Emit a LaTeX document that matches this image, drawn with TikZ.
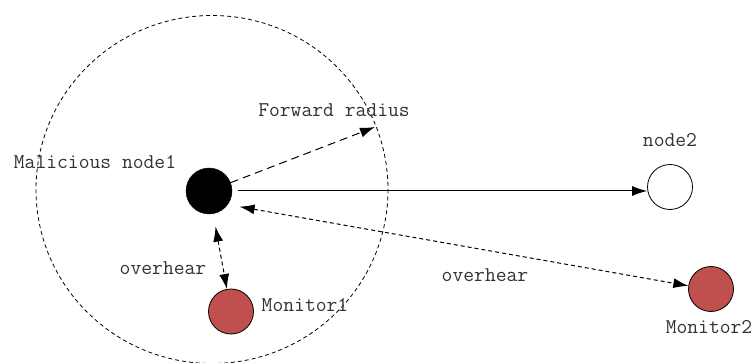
\documentclass[tikz,border=0pt]{standalone}
\usepackage{tikz}
\usetikzlibrary{arrows.meta}
\usepackage{xcolor}

\definecolor{monred}{RGB}{192,80,77}

\tikzset{
  lbl/.style={font=\fontsize{21}{25}\selectfont\ttfamily, text=black!80},
  malnode/.style={circle, fill=black, draw=black, minimum size=46pt, inner sep=0pt},
  plainnode/.style={circle, fill=white, draw=black, line width=0.8pt, minimum size=45pt, inner sep=0pt},
  monnode/.style={circle, fill=monred, draw=black, line width=0.8pt, minimum size=45pt, inner sep=0pt},
  fwdline/.style={line width=1pt, dash pattern=on 8pt off 5pt},
  ovhline/.style={line width=1pt, dash pattern=on 4pt off 3pt},
}

\begin{document}
\begin{tikzpicture}[x=1pt, y=-1pt, >={Latex[length=15pt,width=10pt]}]
        % Canvas
        \useasboundingbox (0,0) rectangle (754,363);

        % Forward radius range
        \draw[line width=0.8pt, dash pattern=on 4pt off 3pt] (212,189.5) ellipse [x radius=176, y radius=174];

        % Nodes
        \node[malnode] (mal) at (209,191) {};
        \node[plainnode] (node2) at (670,187) {};
        \node[monnode] (mon1) at (231,311.5) {};
        \node[monnode] (mon2) at (711,289) {};
        \coordinate (fr) at (375,127);

        % Arrows
        \draw[->, line width=1pt, shorten <=6pt] (mal.east) -- (mal.east -| node2.west);
        \draw[->, fwdline] (mal) -- (fr);
        \draw[<->, ovhline, shorten <=13pt] (mal) -- (mon1);
        \draw[<->, ovhline, shorten <=12pt] (mal.-36) -- (mon2.172);

        % Labels
        \node[lbl] (lmal) at (95,162) {Malicious node1};
        \node[lbl] (lfr) at (334,110) {Forward radius};
        \node[lbl] (lnode2) at (670,140) {node2};
        \node[lbl] (lmon1) at (305,305) {Monitor1};
        \node[lbl] (lmon2) at (709,327) {Monitor2};
        \node[lbl] (lovh1) at (163,268) {overhear};
        \node[lbl] (lovh2) at (485,275) {overhear};
\end{tikzpicture}
\end{document}
